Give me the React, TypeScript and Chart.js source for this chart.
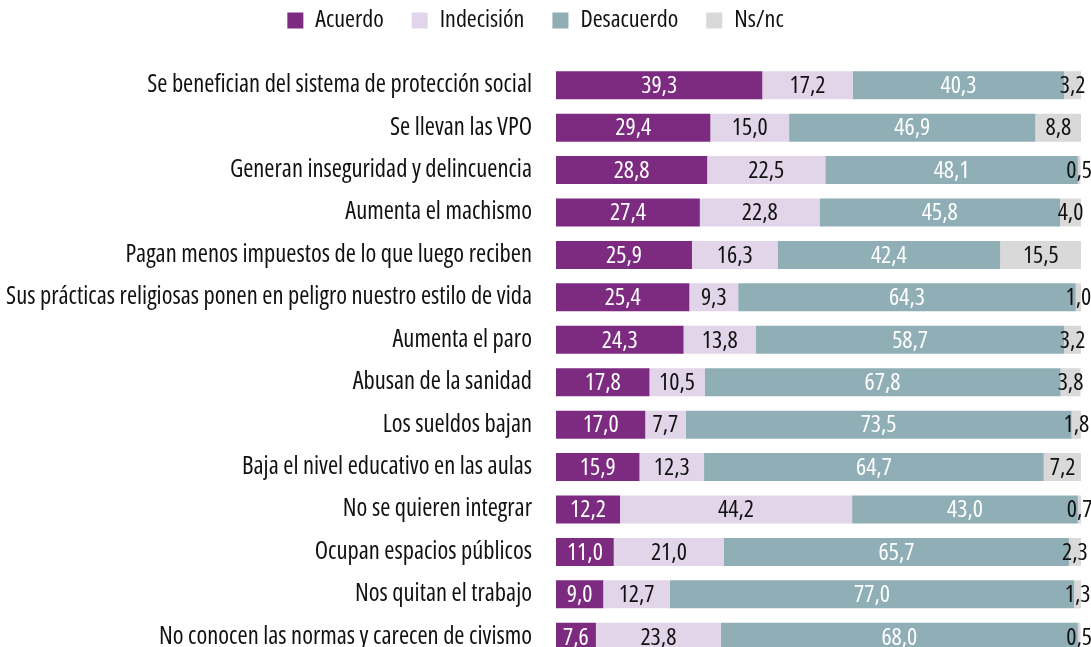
import React, { useEffect, useRef } from "react";
import { Chart, registerables } from "chart.js";

Chart.register(...registerables);

const categories = [
  "Se benefician del sistema de protección social",
  "Se llevan las VPO",
  "Generan inseguridad y delincuencia",
  "Aumenta el machismo",
  "Pagan menos impuestos de lo que luego reciben",
  "Sus prácticas religiosas ponen en peligro nuestro estilo de vida",
  "Aumenta el paro",
  "Abusan de la sanidad",
  "Los sueldos bajan",
  "Baja el nivel educativo en las aulas",
  "No se quieren integrar",
  "Ocupan espacios públicos",
  "Nos quitan el trabajo",
  "No conocen las normas y carecen de civismo",
];

const acuerdo = [39.3, 29.4, 28.8, 27.4, 25.9, 25.4, 24.3, 17.8, 17.0, 15.9, 12.2, 11.0, 9.0, 7.6];
const indecision = [17.2, 15.0, 22.5, 22.8, 16.3, 9.3, 13.8, 10.5, 7.7, 12.3, 44.2, 21.0, 12.7, 23.8];
const desacuerdo = [40.3, 46.9, 48.1, 45.8, 42.4, 64.3, 58.7, 67.8, 73.5, 64.7, 43.0, 65.7, 77.0, 68.0];
const nsnc = [3.2, 8.8, 0.5, 4.0, 15.5, 1.0, 3.2, 3.8, 1.8, 7.2, 0.7, 2.3, 1.3, 0.5];

const seriesNames = ["Acuerdo", "Indecisión", "Desacuerdo", "Ns/nc"];
const seriesColors = ["#7D2B80", "#E2D5E9", "#8FAEB5", "#D9D9D9"];
const labelColors = ["#ffffff", "#111111", "#ffffff", "#111111"];

const FAMILY = "'Open Sans', 'Noto Sans', sans-serif";
const STRETCH = "normal condensed";

const valueLabels = {
  id: "valueLabels",
  afterDatasetsDraw(chart: any) {
    const ctx = chart.ctx;
    ctx.save();
    ctx.font = `${STRETCH} 24px ${FAMILY}`;
    ctx.textAlign = "center";
    ctx.textBaseline = "middle";
    chart.data.datasets.forEach((ds: any, di: number) => {
      const meta = chart.getDatasetMeta(di);
      meta.data.forEach((el: any, i: number) => {
        const { x, base, y } = el.getProps(["x", "base", "y"], true);
        const v = ds.data[i] as number;
        ctx.fillStyle = labelColors[di];
        ctx.fillText(v.toFixed(1).replace(".", ","), (x + base) / 2, y + 1);
      });
    });
    ctx.restore();
  },
};

export default function App() {
  const ref = useRef<HTMLCanvasElement | null>(null);
  useEffect(() => {
    if (!ref.current) return;
    const datasets = [acuerdo, indecision, desacuerdo, nsnc].map((d, i) => ({
      label: seriesNames[i],
      data: d,
      backgroundColor: seriesColors[i],
      borderWidth: 0,
      categoryPercentage: 0.66,
      barPercentage: 1,
    }));
    const chart = new Chart(ref.current, {
      type: "bar",
      data: { labels: categories, datasets },
      options: {
        indexAxis: "y",
        animation: false,
        responsive: true,
        maintainAspectRatio: false,
        layout: { padding: { left: -10, right: 10, top: -19.5, bottom: 0 } },
        plugins: {
          tooltip: { enabled: false },
          legend: {
            position: "top",
            align: "center",
            labels: {
              boxWidth: 16,
              boxHeight: 16,
              padding: 28,
              color: "#111111",
              font: { family: FAMILY, size: 24, weight: STRETCH as any },
            },
          },
        },
        scales: {
          x: {
            stacked: true,
            min: 0,
            max: 100,
            position: "top",
            display: true,
            grid: { display: false, drawTicks: false },
            border: { display: false },
            ticks: { display: false },
            afterFit(scale: any) {
              scale.height = 21.5;
              scale.paddingLeft = 0;
              scale.paddingRight = 0;
              scale.paddingTop = 0;
              scale.paddingBottom = 0;
            },
          },
          y: {
            stacked: true,
            grid: { display: false, drawTicks: false },
            border: { display: false },
            ticks: {
              color: "#111111",
              padding: 24,
              font: { family: FAMILY, size: 24.5, weight: STRETCH as any },
            },
            afterFit(scale: any) {
              scale.width = 566;
              scale.paddingTop = 0;
              scale.paddingBottom = 0;
            },
          },
        },
      },
      plugins: [valueLabels],
    });
    return () => chart.destroy();
  }, []);
  return (
    <div
      style={{
        position: "fixed",
        left: 0,
        top: 0,
        width: 1091,
        height: 647,
        overflow: "hidden",
        background: "#fff",
      }}
    >
      <div style={{ position: "relative", width: 1091, height: 658 }}>
        <canvas ref={ref} />
      </div>
    </div>
  );
}
